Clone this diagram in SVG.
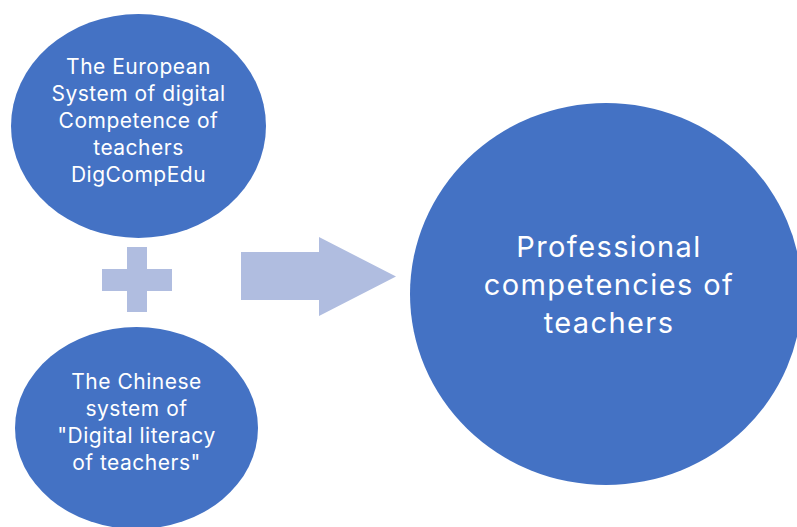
<svg xmlns="http://www.w3.org/2000/svg" width="797" height="527" viewBox="0 0 797 527">
<style>
.node{fill:#4472C4}
.shape{fill:#B0BDE0}
.t{fill:#FFFFFF;font-family:Inter,"Noto Sans","Liberation Sans",sans-serif;text-anchor:middle}
.s{font-size:21px;letter-spacing:0.5px}
.l{font-size:29px;letter-spacing:1.4px}
</style>
<rect width="797" height="527" fill="#FFFFFF"/>
<g id="connectors">
<path class="shape" d="M127,247H147V269H172V291H147V312H127V291H102V269H127Z"/>
<path class="shape" d="M241,252H319V237L396,276.5L319,316V300H241Z"/>
</g>
<g id="european">
<ellipse class="node" cx="138.5" cy="126" rx="127.5" ry="112"/>
<text class="t s" x="138.5" y="74">The European</text>
<text class="t s" x="138.5" y="101">System of digital</text>
<text class="t s" x="138.5" y="128">Competence of</text>
<text class="t s" x="138.5" y="155">teachers</text>
<text class="t s" x="138.5" y="182">DigCompEdu</text>
</g>
<g id="chinese">
<ellipse class="node" cx="136.5" cy="428" rx="121.5" ry="101"/>
<text class="t s" x="136.5" y="389">The Chinese</text>
<text class="t s" x="136.5" y="416">system of</text>
<text class="t s" x="136.5" y="443">"Digital literacy</text>
<text class="t s" x="136.5" y="470">of teachers"</text>
</g>
<g id="professional">
<ellipse class="node" cx="606" cy="294" rx="196" ry="191"/>
<text class="t l" x="609" y="257">Professional</text>
<text class="t l" x="609" y="295">competencies of</text>
<text class="t l" x="609" y="333">teachers</text>
</g>
</svg>
